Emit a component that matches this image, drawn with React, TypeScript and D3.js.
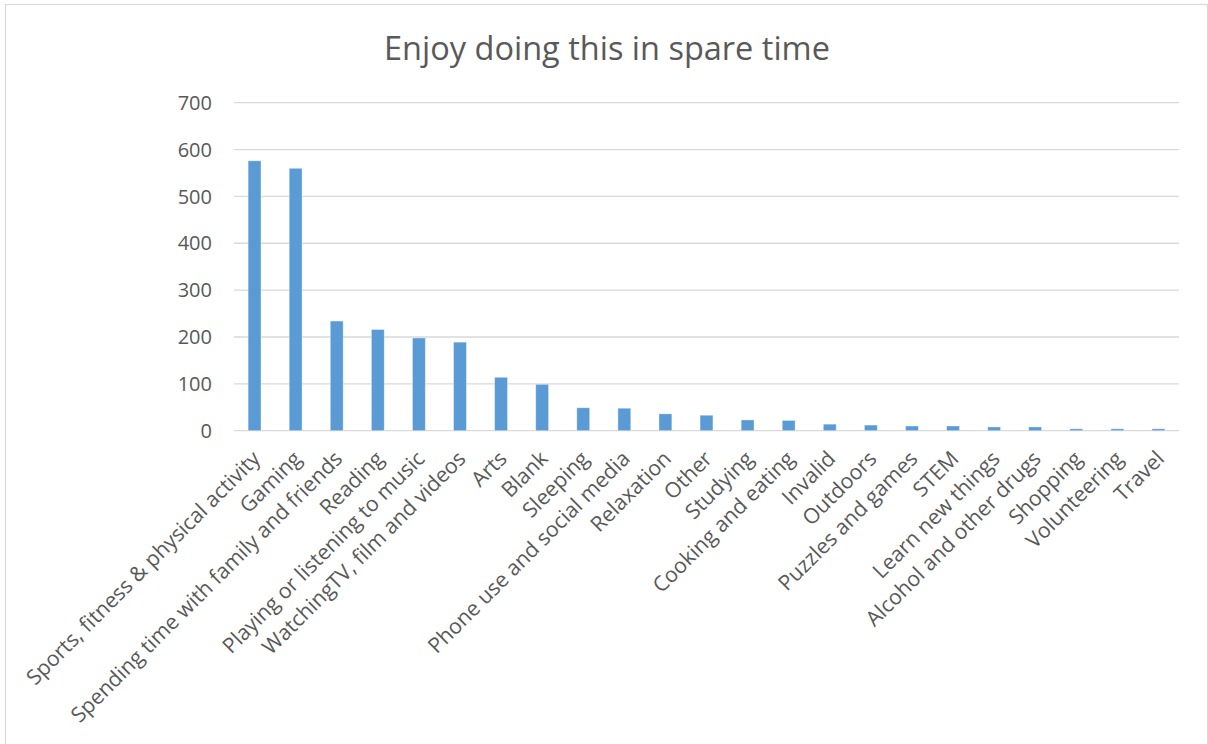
import React from "react";
import * as d3 from "d3";

// Activities and number of respondents who enjoy each in their spare time
const categories = [
  "Sports, fitness & physical activity",
  "Gaming",
  "Spending time with family and friends",
  "Reading",
  "Playing or listening to music",
  "WatchingTV, film and videos",
  "Arts",
  "Blank",
  "Sleeping",
  "Phone use and social media",
  "Relaxation",
  "Other",
  "Studying",
  "Cooking and eating",
  "Invalid",
  "Outdoors",
  "Puzzles and games",
  "STEM",
  "Learn new things",
  "Alcohol and other drugs",
  "Shopping",
  "Volunteering",
  "Travel",
];

const counts = [576, 560, 234, 216, 198, 189, 114, 99, 49, 48, 36, 33, 23, 22, 14, 12, 10, 10, 8, 8, 4, 4, 4];

const yTicks = [0, 100, 200, 300, 400, 500, 600, 700];

const title = "Enjoy doing this in spare time";

const WIDTH = 1208;
const HEIGHT = 744;
const FONT = "'Open Sans', 'Noto Sans', sans-serif";
const TEXT = "#595959";
const GRID = "#d9d9d9";
const BAR = "#5b9bd5";

export default function App() {
  const plot = { left: 234, right: 1179, top: 102.7, bottom: 430.7 };

  const x = d3
    .scaleBand<string>()
    .domain(categories)
    .range([plot.left, plot.right])
    .padding(0);

  const y = d3.scaleLinear().domain([0, 700]).range([plot.bottom, plot.top]);

  // gap width of 219% between columns
  const barW = x.bandwidth() / 3.19;

  return (
    <svg
      width={WIDTH}
      height={HEIGHT}
      style={{ position: "absolute", left: 0, top: 0, background: "#fff" }}
      fontFamily={FONT}
    >
      <rect x={0} y={0} width={WIDTH} height={HEIGHT} fill="#fff" />
      <rect
        x={5.5}
        y={4.5}
        width={1202}
        height={780}
        fill="none"
        stroke={GRID}
        strokeWidth={1.2}
      />

      <text x={607} y={60} textAnchor="middle" fontSize={32.5} fill={TEXT}>
        {title}
      </text>

      {yTicks.map((t) => (
        <g key={t}>
          <line
            x1={plot.left}
            x2={plot.right}
            y1={y(t)}
            y2={y(t)}
            stroke={GRID}
            strokeWidth={1.3}
          />
          <text
            x={212}
            y={y(t)}
            dy="0.36em"
            textAnchor="end"
            fontSize={20}
            fill={TEXT}
          >
            {t}
          </text>
        </g>
      ))}

      {categories.map((c, i) => {
        const cx = (x(c) as number) + x.bandwidth() / 2;
        return (
          <rect
            key={c}
            x={cx - barW / 2}
            y={y(counts[i])}
            width={barW}
            height={y(0) - y(counts[i])}
            fill={BAR}
            stroke="#ffffff"
            strokeOpacity={0.45}
            strokeWidth={0.8}
          />
        );
      })}

      {categories.map((c) => {
        const cx = (x(c) as number) + x.bandwidth() / 2;
        return (
          <text
            key={c}
            transform={`translate(${cx + 7},${460}) rotate(-45)`}
            textAnchor="end"
            fontSize={21.2}
            fill={TEXT}
          >
            {c}
          </text>
        );
      })}
    </svg>
  );
}
